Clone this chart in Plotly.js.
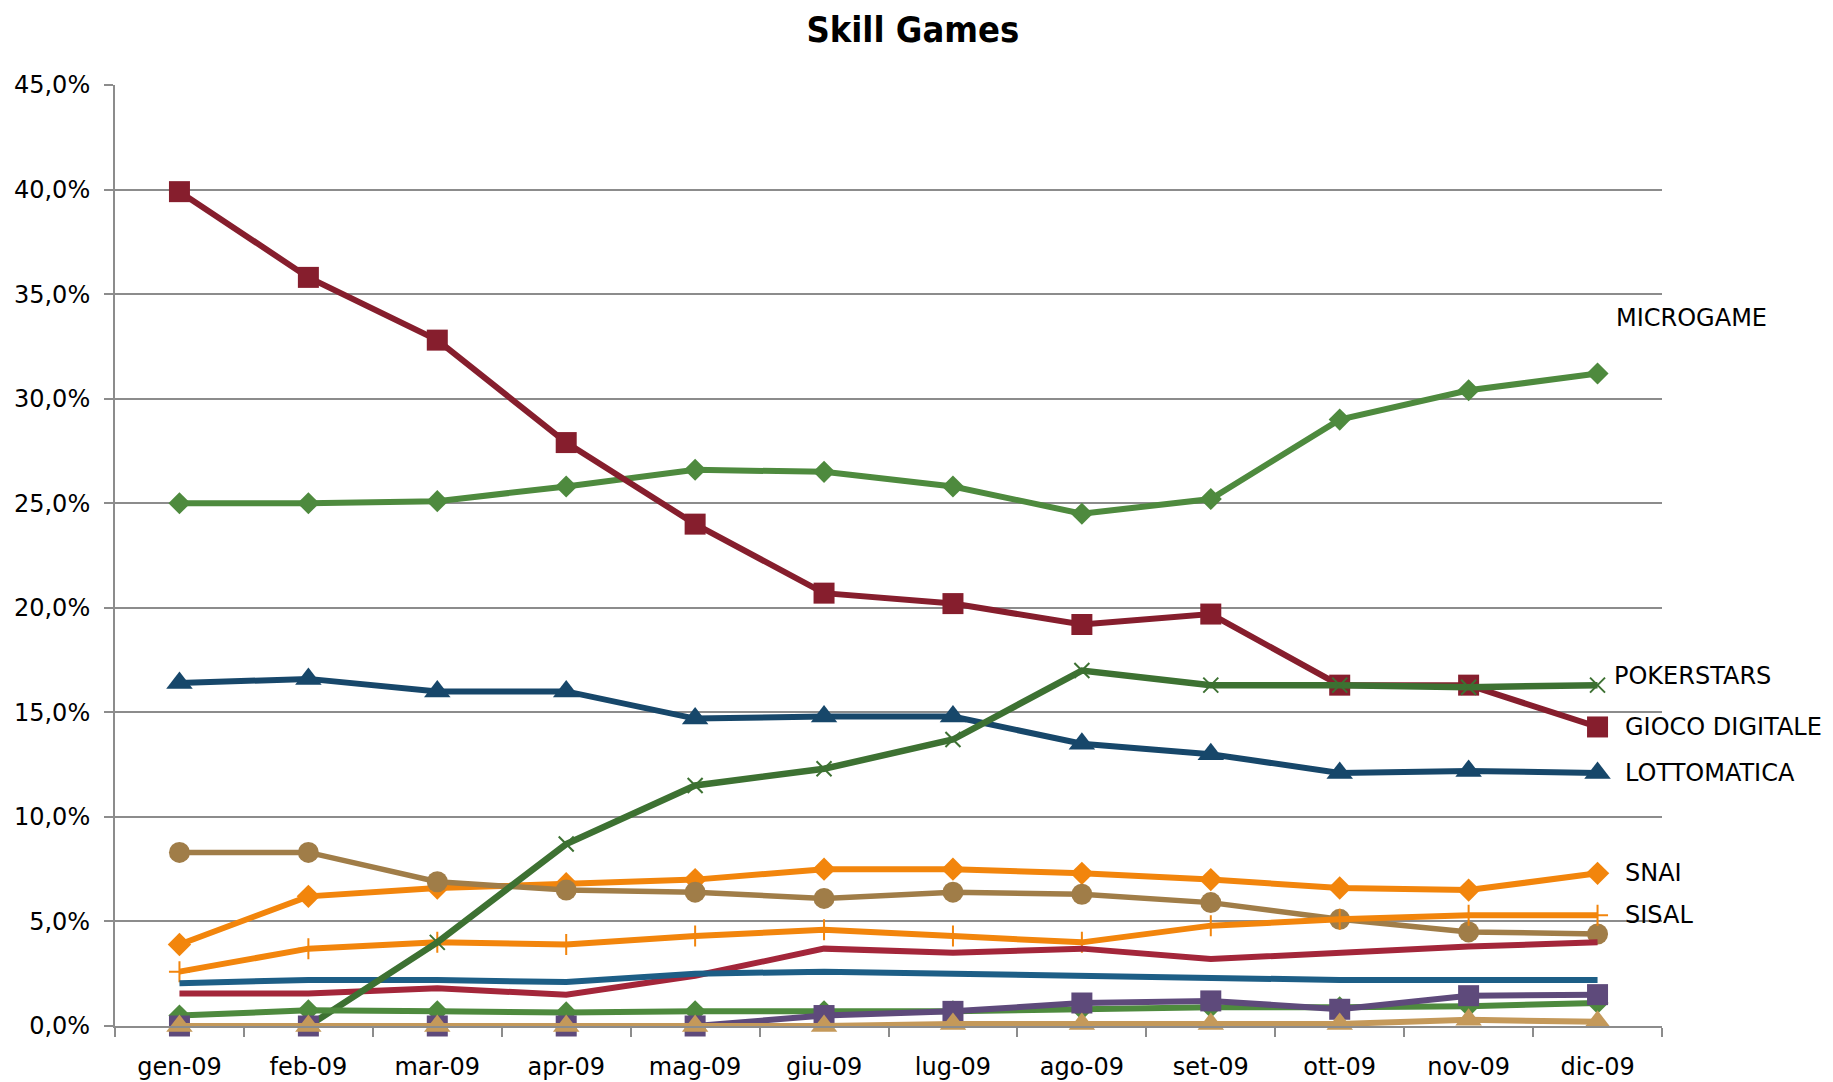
<!DOCTYPE html>
<html>
<head>
<meta charset="utf-8">
<script src="https://cdn.plot.ly/plotly-3.0.1.min.js"></script>
<style>
  html, body { margin: 0; padding: 0; background: #fff; }
  #chart { width: 1833px; height: 1082px; }
</style>
</head>
<body>
<div id="chart"></div>
<script>
const months = ["gen-09", "feb-09", "mar-09", "apr-09", "mag-09", "giu-09",
  "lug-09", "ago-09", "set-09", "ott-09", "nov-09", "dic-09"];

// quote di mercato in %
const microgame = [25.0, 25.0, 25.1, 25.8, 26.6, 26.5, 25.8, 24.5, 25.2, 29.0, 30.4, 31.2];
const giocoDigitale = [39.9, 35.8, 32.8, 27.9, 24.0, 20.7, 20.2, 19.2, 19.7, 16.3, 16.3, 14.3];
const pokerstars = [null, 0.0, 4.0, 8.7, 11.5, 12.3, 13.7, 17.0, 16.3, 16.3, 16.2, 16.3];
const lottomatica = [16.4, 16.6, 16.0, 16.0, 14.7, 14.8, 14.8, 13.5, 13.0, 12.1, 12.2, 12.1];
const snai = [3.9, 6.2, 6.6, 6.8, 7.0, 7.5, 7.5, 7.3, 7.0, 6.6, 6.5, 7.3];
const sisal = [2.6, 3.7, 4.0, 3.9, 4.3, 4.6, 4.3, 4.0, 4.8, 5.1, 5.3, 5.3];
const serieCerchi = [8.3, 8.3, 6.9, 6.5, 6.4, 6.1, 6.4, 6.3, 5.9, 5.1, 4.5, 4.4];
const serieRossa = [1.55, 1.55, 1.8, 1.5, 2.4, 3.7, 3.5, 3.7, 3.2, 3.5, 3.8, 4.0];
const serieBlu = [2.05, 2.2, 2.2, 2.1, 2.5, 2.6, 2.5, 2.4, 2.3, 2.2, 2.2, 2.2];
const serieVerde = [0.5, 0.75, 0.7, 0.65, 0.7, 0.7, 0.7, 0.8, 0.9, 0.9, 0.95, 1.1];
const serieViola = [0.0, 0.0, 0.0, 0.0, 0.0, 0.5, 0.7, 1.1, 1.2, 0.8, 1.45, 1.5];
const serieTriangoli = [0.0, 0.0, 0.0, 0.0, 0.0, 0.0, 0.1, 0.1, 0.1, 0.1, 0.3, 0.2];

const FONT = "DejaVu Sans, sans-serif";

function series(y, name, color, symbol, size, width) {
  const open = symbol.includes("thin");
  return {
    x: months,
    y,
    name,
    type: "scatter",
    mode: symbol === "none" ? "lines" : "lines+markers",
    line: { color, width: width || 6 },
    marker: open
      ? { symbol, size, color, line: { color, width: 2 } }
      : { symbol, size, color, line: { width: 0 } },
    cliponaxis: false,
    showlegend: false,
  };
}

const traces = [
  series(microgame, "MICROGAME", "#4e8a3e", "diamond", 17),
  series(giocoDigitale, "GIOCO DIGITALE", "#861e2d", "square", 21),
  series(lottomatica, "LOTTOMATICA", "#17476a", "triangle-up", 23),
  series(snai, "SNAI", "#f2850c", "diamond", 18),
  series(serieCerchi, "serie 7", "#a07d48", "circle", 21, 5.5),
  series(sisal, "SISAL", "#f2850c", "cross-thin", 15),
  series(serieRossa, "serie 8", "#a3263a", "none", 0),
  series(serieBlu, "serie 9", "#1d5e86", "none", 0),
  series(pokerstars, "POKERSTARS", "#3d7132", "x-thin", 15, 6.5),
  series(serieVerde, "serie 10", "#4e8a3e", "diamond", 17),
  series(serieViola, "serie 11", "#5e4a7b", "square", 21),
  series(serieTriangoli, "serie 12", "#c4995a", "triangle-up", 23),
];

const last = months.length - 1;
function label(text, values, xshift, yshift) {
  return {
    x: months[last],
    y: values[last],
    text,
    showarrow: false,
    xanchor: "left",
    yanchor: "middle",
    xshift,
    yshift,
    font: { family: FONT, size: 24, color: "#000" },
  };
}

const layout = {
  width: 1833,
  height: 1082,
  separators: ",.",
  paper_bgcolor: "#fff",
  plot_bgcolor: "#fff",
  margin: { l: 115, r: 171, t: 85, b: 56 },
  title: {
    text: "<b>Skill Games</b>",
    x: 0.498,
    xanchor: "center",
    y: 0.973,
    yanchor: "middle",
    font: { family: "DejaVu Sans Condensed, DejaVu Sans, sans-serif", size: 36, color: "#000" },
  },
  xaxis: {
    type: "category",
    range: [-0.5, 11.5],
    showgrid: false,
    showline: true,
    linecolor: "#8c8c8c",
    linewidth: 2,
    ticks: "outside",
    tickson: "boundaries",
    ticklen: 9,
    tickwidth: 2,
    tickcolor: "#8c8c8c",
    ticklabelstandoff: 18,
    tickfont: { family: FONT, size: 24, color: "#000" },
  },
  yaxis: {
    range: [0, 45],
    dtick: 5,
    tickformat: ".1f",
    ticksuffix: "%",
    showgrid: true,
    gridcolor: "#8c8c8c",
    gridwidth: 2,
    showline: true,
    linecolor: "#8c8c8c",
    linewidth: 2,
    ticks: "outside",
    ticklen: 9,
    tickwidth: 2,
    tickcolor: "#8c8c8c",
    ticklabelstandoff: 9,
    zeroline: false,
    tickfont: { family: FONT, size: 24, color: "#000" },
  },
  annotations: [
    label("MICROGAME", microgame, 16, 56),
    label("POKERSTARS", pokerstars, 14, 9),
    label("GIOCO DIGITALE", giocoDigitale, 25, 0),
    label("LOTTOMATICA", lottomatica, 25, 0),
    label("SNAI", snai, 25, 0),
    label("SISAL", sisal, 25, 0),
  ],
};

Plotly.newPlot("chart", traces, layout, { staticPlot: true });
</script>
</body>
</html>
